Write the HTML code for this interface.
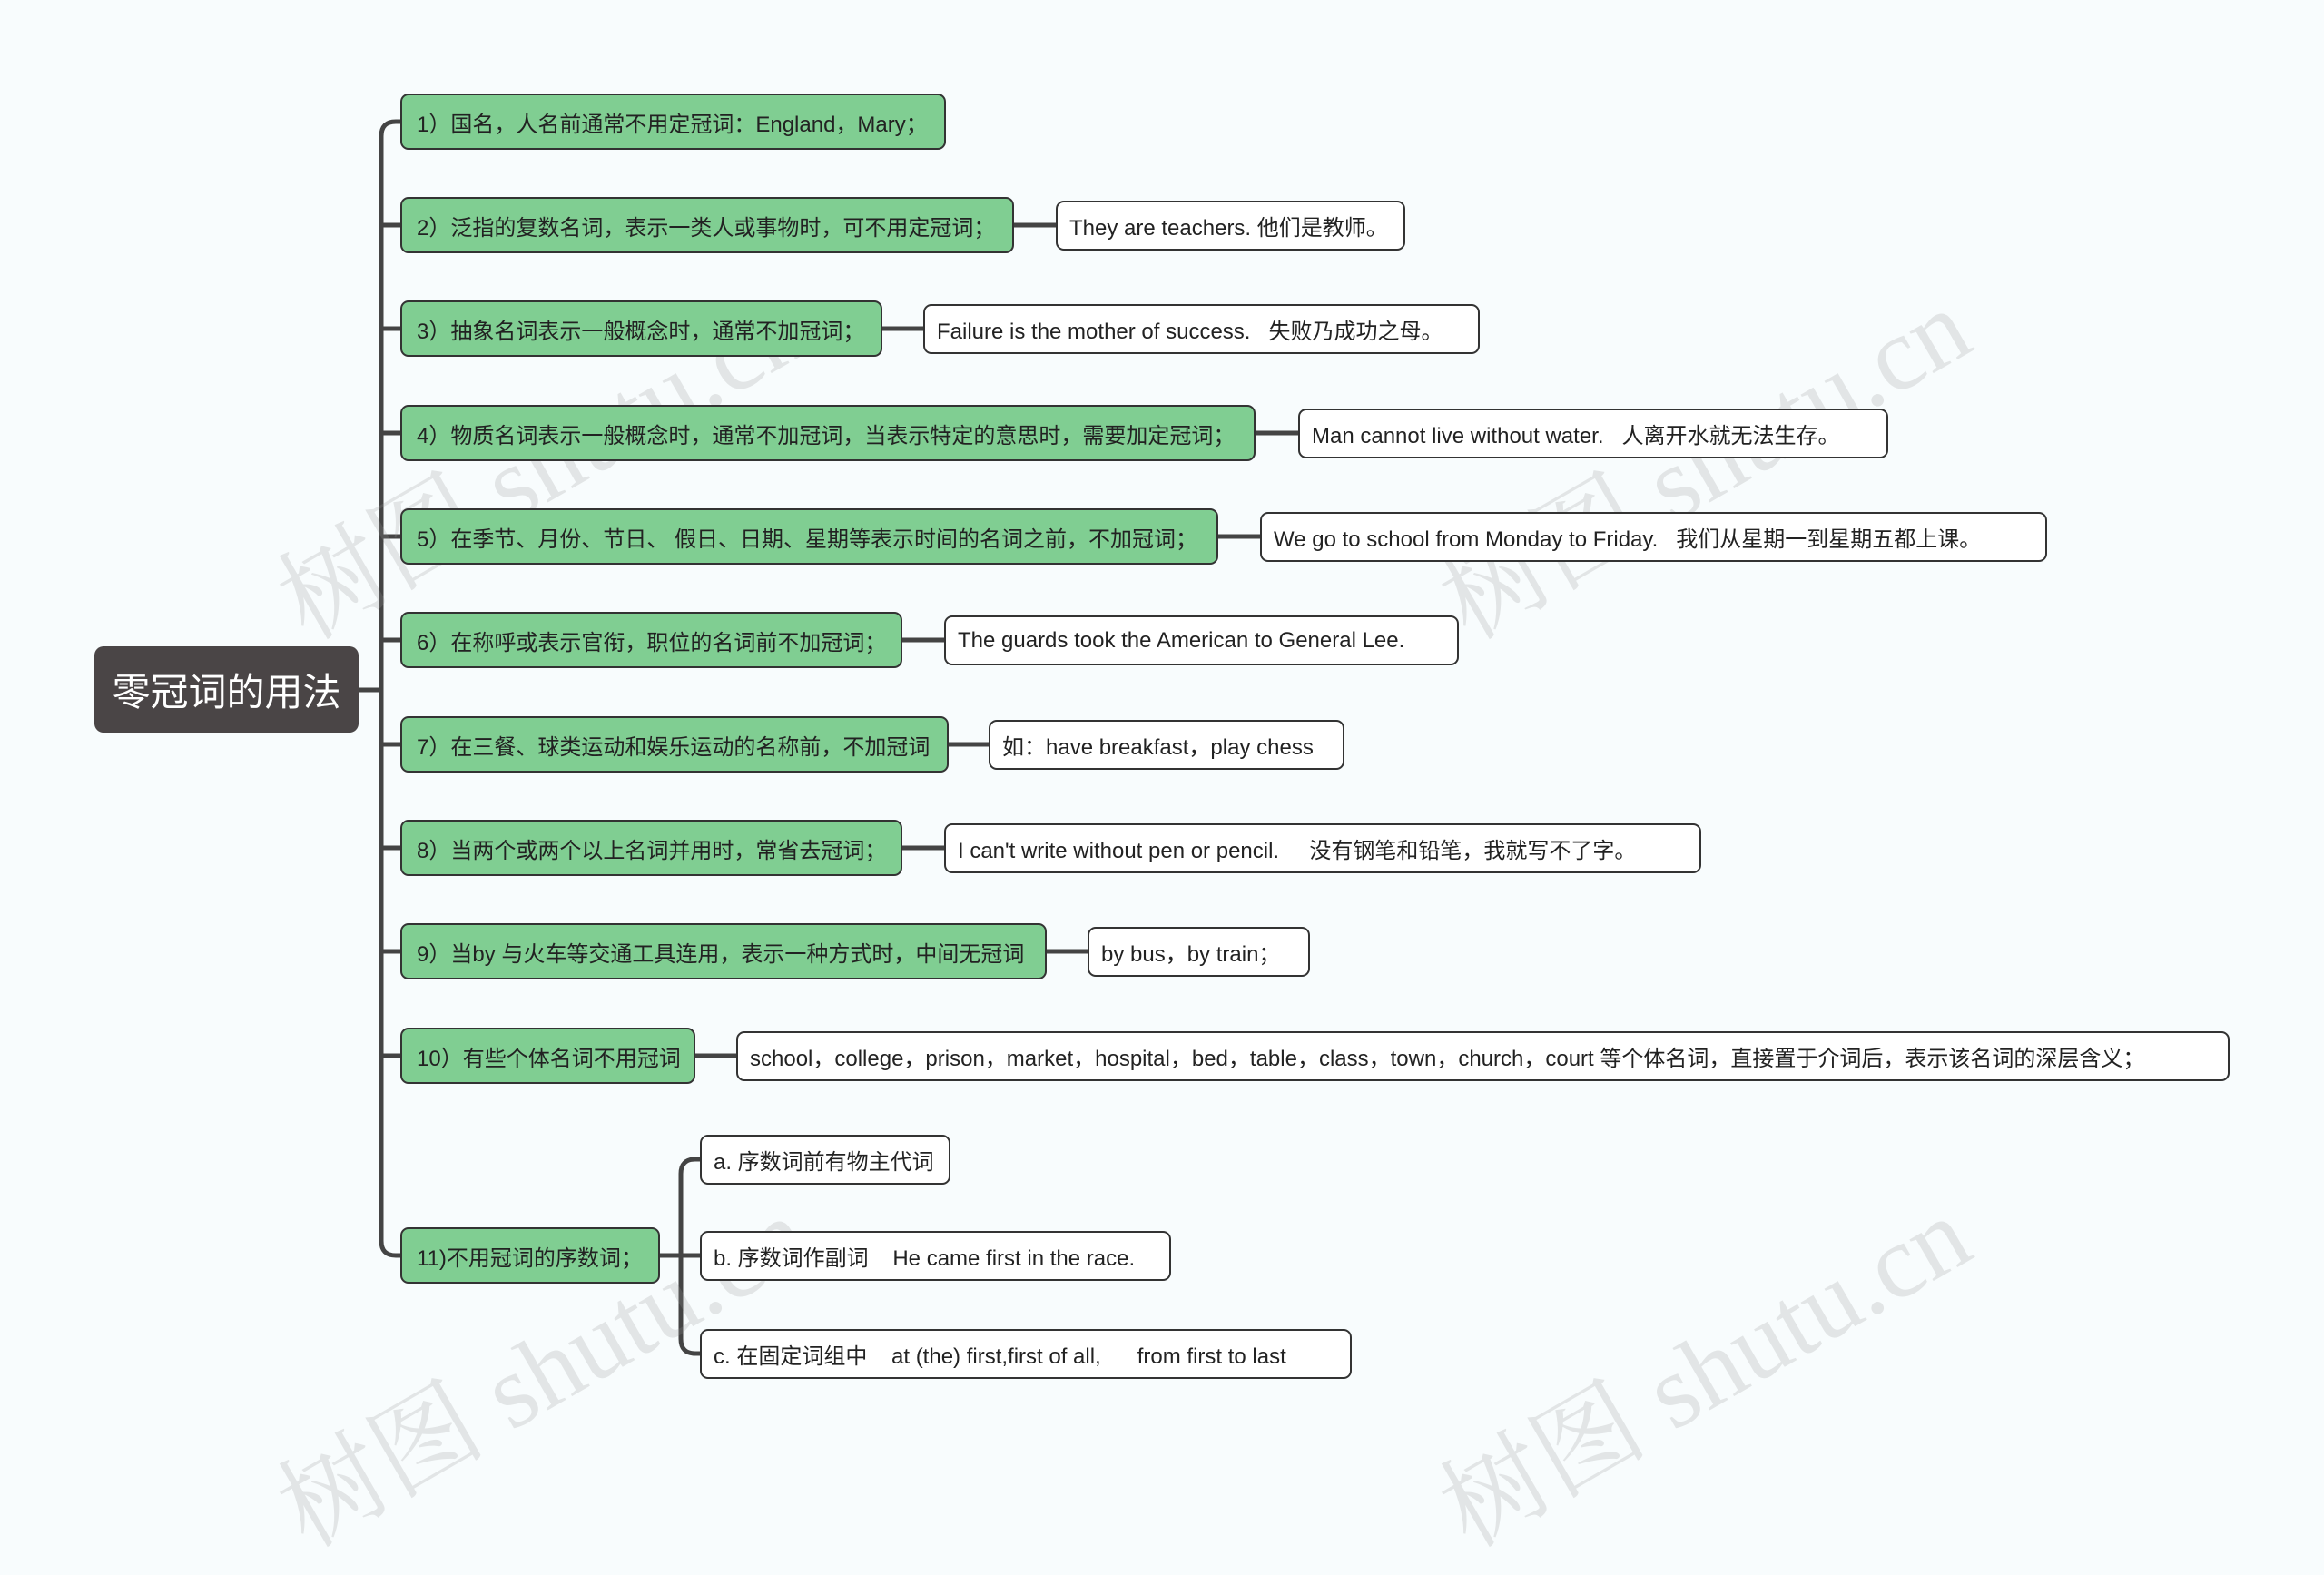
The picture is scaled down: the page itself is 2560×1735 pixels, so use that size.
<!DOCTYPE html>
<html><head><meta charset="utf-8"><style>
body{margin:0;width:2560px;height:1623px;background:#f8fcfd;position:relative;overflow:hidden;font-family:"Liberation Sans","Noto Sans CJK SC",sans-serif;}
.n{position:absolute;box-sizing:border-box;border:2px solid #333;border-radius:9px;white-space:nowrap;font-size:24px;color:#222;padding-left:16px;display:flex;align-items:center;overflow:hidden;}
.g{background:#80ce92;height:62px;}
.w{background:#fff;height:55px;padding-left:13px;}
.root{position:absolute;left:104px;top:712px;width:291px;height:95px;background:#4a4546;border-radius:10px;color:#fff;font-size:42px;display:flex;align-items:center;justify-content:center;font-family:"Liberation Sans","Noto Sans CJK SC",sans-serif;}
.wm{position:absolute;font-size:115px;color:rgba(150,150,150,0.22);transform:rotate(-30deg);transform-origin:0 100%;white-space:nowrap;font-family:"Liberation Serif","Noto Serif CJK SC",serif;}
</style></head><body>
<svg width="2560" height="1623" style="position:absolute;left:0;top:0" fill="none" stroke="#444" stroke-width="5">
<path d="M395,760 H420"/>
<path d="M420,150 V1367"/>
<path d="M420,150 Q420,134 436,134 H441"/>
<path d="M420,1367 Q420,1383 436,1383 H441"/>
<path d="M420,248 H441 M420,362 H441 M420,477 H441 M420,591 H441 M420,705 H441 M420,820 H441 M420,934 H441 M420,1048 H441 M420,1163 H441"/>
<path d="M1117,248 H1163 M972,362 H1017 M1383,477 H1430 M1342,591 H1388 M994,705 H1040 M1045,820 H1089 M994,934 H1040 M1153,1048 H1198 M766,1163 H811"/>
<path d="M727,1383 H750 M750,1293 V1475 M750,1293 Q750,1277 766,1277 H771 M750,1383 H771 M750,1475 Q750,1491 766,1491 H771"/>
</svg>
<div class="wm" style="left:355px;top:570px">树图 shutu.cn</div>
<div class="wm" style="left:1635px;top:570px">树图 shutu.cn</div>
<div class="wm" style="left:355px;top:1570px">树图 shutu.cn</div>
<div class="wm" style="left:1635px;top:1570px">树图 shutu.cn</div>
<div class="root">零冠词的用法</div>
<div class="n g" style="left:441px;top:103px;width:601px">1）国名，人名前通常不用定冠词：England，Mary；</div>
<div class="n g" style="left:441px;top:217px;width:676px">2）泛指的复数名词，表示一类人或事物时，可不用定冠词；</div>
<div class="n g" style="left:441px;top:331px;width:531px">3）抽象名词表示一般概念时，通常不加冠词；</div>
<div class="n g" style="left:441px;top:446px;width:942px">4）物质名词表示一般概念时，通常不加冠词，当表示特定的意思时，需要加定冠词；</div>
<div class="n g" style="left:441px;top:560px;width:901px">5）在季节、月份、节日、 假日、日期、星期等表示时间的名词之前，不加冠词；</div>
<div class="n g" style="left:441px;top:674px;width:553px">6）在称呼或表示官衔，职位的名词前不加冠词；</div>
<div class="n g" style="left:441px;top:789px;width:604px">7）在三餐、球类运动和娱乐运动的名称前，不加冠词</div>
<div class="n g" style="left:441px;top:903px;width:553px">8）当两个或两个以上名词并用时，常省去冠词；</div>
<div class="n g" style="left:441px;top:1017px;width:712px">9）当by 与火车等交通工具连用，表示一种方式时，中间无冠词</div>
<div class="n g" style="left:441px;top:1132px;width:325px">10）有些个体名词不用冠词</div>
<div class="n g" style="left:441px;top:1352px;width:286px">11)不用冠词的序数词；</div>
<div class="n w" style="left:1163px;top:221px;width:385px">They are teachers. 他们是教师。</div>
<div class="n w" style="left:1017px;top:335px;width:613px">Failure is the mother of success. &nbsp; 失败乃成功之母。</div>
<div class="n w" style="left:1430px;top:450px;width:650px">Man cannot live without water. &nbsp; 人离开水就无法生存。</div>
<div class="n w" style="left:1388px;top:564px;width:867px">We go to school from Monday to Friday. &nbsp; 我们从星期一到星期五都上课。</div>
<div class="n w" style="left:1040px;top:678px;width:567px">The guards took the American to General Lee.</div>
<div class="n w" style="left:1089px;top:793px;width:392px">如：have breakfast，play chess</div>
<div class="n w" style="left:1040px;top:907px;width:834px">I can't write without pen or pencil. &nbsp; &nbsp; 没有钢笔和铅笔，我就写不了字。</div>
<div class="n w" style="left:1198px;top:1021px;width:245px">by bus，by train；</div>
<div class="n w" style="left:811px;top:1136px;width:1645px">school，college，prison，market，hospital，bed，table，class，town，church，court 等个体名词，直接置于介词后，表示该名词的深层含义；</div>
<div class="n w" style="left:771px;top:1250px;width:276px">a. 序数词前有物主代词</div>
<div class="n w" style="left:771px;top:1356px;width:519px">b. 序数词作副词 &nbsp; &nbsp;He came first in the race.</div>
<div class="n w" style="left:771px;top:1464px;width:718px">c. 在固定词组中 &nbsp; &nbsp;at (the) first,first of all, &nbsp; &nbsp; &nbsp;from first to last</div>
</body></html>
